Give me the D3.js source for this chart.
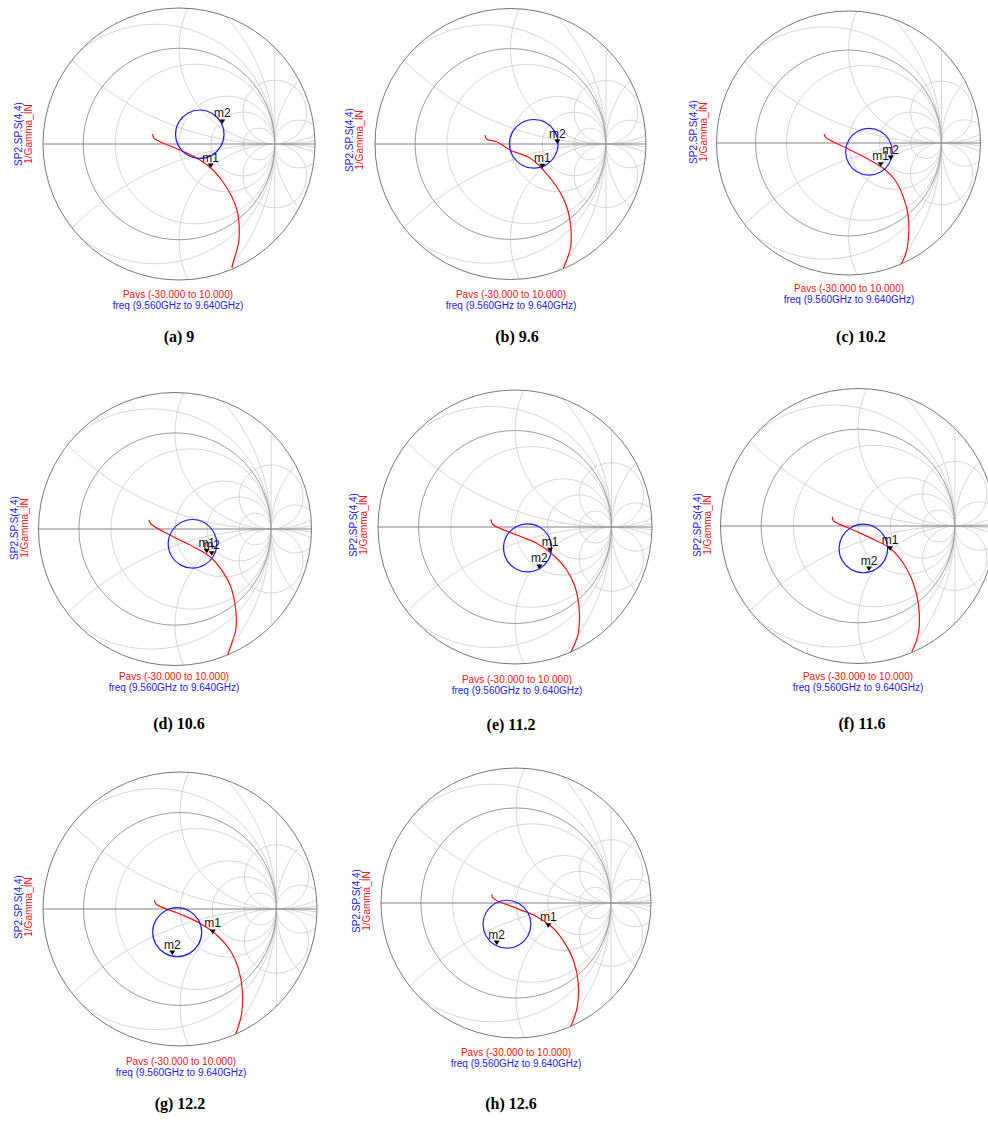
<!DOCTYPE html>
<html>
<head>
<meta charset="utf-8">
<script src="https://cdn.jsdelivr.net/npm/d3@7"></script>
<style>
  body { margin: 0; background: #fff; }
  svg { display: block; }
</style>
</head>
<body>
<svg id="chart" width="988" height="1123"></svg>
<script>
// ---- data: reflection coefficients [re, im] ----
// 1/Gamma_IN over Pavs (-30 .. 10)
const invGamma_a = [[-0.275,0.104],[-0.261,0.060],[-0.198,0.024],[0.010,-0.063],[0.219,-0.167],[0.355,-0.271],[0.459,-0.397],[0.553,-0.553],[0.605,-0.689],[0.626,-0.825],[0.626,-1.002],[0.605,-1.106],[0.564,-1.242],[0.553,-1.294]];
const invGamma_b = [[-0.267,0.094],[-0.249,0.049],[-0.145,0.024],[-0.005,-0.063],[0.204,-0.147],[0.344,-0.273],[0.484,-0.448],[0.589,-0.657],[0.631,-0.867],[0.631,-1.077],[0.589,-1.216],[0.553,-1.303]];
const invGamma_c = [[-0.263,0.097],[-0.245,0.061],[-0.019,-0.057],[0.196,-0.165],[0.374,-0.272],[0.500,-0.398],[0.589,-0.577],[0.643,-0.792],[0.643,-1.043],[0.618,-1.186],[0.561,-1.312]];
const invGamma_d = [[-0.271,0.094],[-0.250,0.052],[-0.018,-0.080],[0.190,-0.184],[0.364,-0.288],[0.486,-0.427],[0.580,-0.600],[0.632,-0.843],[0.632,-1.051],[0.590,-1.189],[0.548,-1.311]];
const invGamma_e = [[-0.249,0.080],[-0.235,0.031],[0.018,-0.083],[0.225,-0.169],[0.397,-0.290],[0.536,-0.446],[0.622,-0.619],[0.666,-0.860],[0.656,-1.102],[0.622,-1.205],[0.570,-1.316]];
const invGamma_f = [[-0.265,0.096],[-0.255,0.055],[-0.049,-0.041],[0.158,-0.137],[0.331,-0.230],[0.468,-0.385],[0.571,-0.592],[0.623,-0.799],[0.633,-1.040],[0.606,-1.178],[0.555,-1.299]];
const invGamma_g = [[-0.266,0.093],[-0.249,0.052],[0.000,-0.052],[0.207,-0.148],[0.380,-0.269],[0.518,-0.425],[0.604,-0.615],[0.646,-0.839],[0.639,-1.081],[0.604,-1.220],[0.570,-1.316]];
const invGamma_h = [[-0.256,0.091],[-0.239,0.049],[0.007,-0.056],[0.218,-0.144],[0.392,-0.266],[0.515,-0.424],[0.603,-0.599],[0.655,-0.844],[0.645,-1.090],[0.610,-1.212],[0.568,-1.318]];

// SP2.SP.S(4,4) over freq (9.56 .. 9.64 GHz), closed loop
const s44_a = [[0.470,0.102],[0.436,0.229],[0.344,0.321],[0.217,0.355],[0.091,0.321],[-0.002,0.229],[-0.036,0.102],[-0.002,-0.025],[0.091,-0.117],[0.217,-0.151],[0.344,-0.117],[0.436,-0.025]];
const s44_b = [[0.499,0.002],[0.465,0.130],[0.372,0.223],[0.244,0.257],[0.117,0.223],[0.023,0.130],[-0.011,0.002],[0.023,-0.126],[0.117,-0.219],[0.244,-0.253],[0.372,-0.219],[0.465,-0.126]];
const s44_c = [[0.471,-0.094],[0.437,0.032],[0.346,0.123],[0.220,0.157],[0.095,0.123],[0.003,0.032],[-0.031,-0.094],[0.003,-0.220],[0.095,-0.311],[0.220,-0.345],[0.346,-0.311],[0.437,-0.220]];
const s44_d = [[0.435,-0.154],[0.401,-0.028],[0.309,0.065],[0.182,0.099],[0.056,0.065],[-0.037,-0.028],[-0.071,-0.154],[-0.037,-0.281],[0.056,-0.373],[0.182,-0.407],[0.309,-0.373],[0.401,-0.281]];
const s44_e = [[0.379,-0.216],[0.346,-0.091],[0.255,0.000],[0.130,0.033],[0.006,0.000],[-0.086,-0.091],[-0.119,-0.216],[-0.086,-0.341],[0.006,-0.432],[0.130,-0.465],[0.255,-0.432],[0.346,-0.341]];
const s44_f = [[0.306,-0.232],[0.272,-0.107],[0.181,-0.015],[0.055,0.019],[-0.071,-0.015],[-0.162,-0.107],[-0.196,-0.232],[-0.162,-0.358],[-0.071,-0.449],[0.055,-0.483],[0.181,-0.449],[0.272,-0.358]];
const s44_g = [[0.225,-0.240],[0.191,-0.113],[0.098,-0.020],[-0.029,0.014],[-0.156,-0.020],[-0.249,-0.113],[-0.283,-0.240],[-0.249,-0.367],[-0.156,-0.460],[-0.029,-0.494],[0.098,-0.460],[0.191,-0.367]];
const s44_h = [[0.157,-0.223],[0.123,-0.097],[0.031,-0.005],[-0.095,0.029],[-0.221,-0.005],[-0.313,-0.097],[-0.347,-0.223],[-0.313,-0.349],[-0.221,-0.441],[-0.095,-0.475],[0.031,-0.441],[0.123,-0.349]];

// markers m1 (on 1/Gamma_IN) and m2 (on S(4,4))
const m1 = [[0.331,-0.251],[0.333,-0.255],[0.346,-0.255],[0.330,-0.253],[0.363,-0.262],[0.331,-0.255],[0.339,-0.259],[0.340,-0.260]];
const m2 = [[0.452,0.209],[0.491,0.000],[0.454,-0.183],[0.382,-0.278],[0.252,-0.435],[0.114,-0.465],[-0.080,-0.477],[-0.203,-0.442]];

const captions = ["(a) 9", "(b) 9.6", "(c) 10.2", "(d) 10.6", "(e) 11.2", "(f) 11.6", "(g) 12.2", "(h) 12.6"];

// Smith grid values
const rGrid = [0.2, 1, 2, 5];
const rNegGrid = [-0.2, -0.5, -2, -5];
const xGrid = [1 / 3, 1, 3];
const G = 1.42; // |gamma| at the outer ring

const red = "#ff1010", blue = "#2020ff";

const panels = [
  {red: invGamma_a, blue: s44_a, cx: 179,   cy: 144, R: 136,   lx: 22,  ly: 134, tx: 178, ty: 298,  capX: 179, capY: 342},
  {red: invGamma_b, blue: s44_b, cx: 510.5, cy: 144, R: 135.5, lx: 353, ly: 140, tx: 511, ty: 298,  capX: 517, capY: 342},
  {red: invGamma_c, blue: s44_c, cx: 848.5, cy: 143, R: 132,   lx: 697, ly: 132, tx: 849, ty: 292,  capX: 861, capY: 342},
  {red: invGamma_d, blue: s44_d, cx: 175,   cy: 529, R: 136.5, lx: 18,  ly: 528, tx: 174, ty: 680,  capX: 179, capY: 729},
  {red: invGamma_e, blue: s44_e, cx: 515,   cy: 527, R: 137,   lx: 357, ly: 525, tx: 517, ty: 683,  capX: 511, capY: 730},
  {red: invGamma_f, blue: s44_f, cx: 858,   cy: 526, R: 137.5, lx: 701, ly: 525, tx: 858, ty: 680,  capX: 862, capY: 729},
  {red: invGamma_g, blue: s44_g, cx: 180,   cy: 909, R: 137,   lx: 22,  ly: 907, tx: 181, ty: 1065, capX: 180, capY: 1109},
  {red: invGamma_h, blue: s44_h, cx: 516,   cy: 903, R: 135,   lx: 360, ly: 901, tx: 516, ty: 1056, capX: 511, capY: 1109}
];

const svg = d3.select("#chart");
svg.append("rect").attr("width", 988).attr("height", 1123).attr("fill", "#fff");
const defs = svg.append("defs");

panels.forEach((p, i) => {
  const sx = d3.scaleLinear().domain([-G, G]).range([p.cx - p.R, p.cx + p.R]);
  const sy = d3.scaleLinear().domain([-G, G]).range([p.cy + p.R, p.cy - p.R]);
  const k = sx(1) - sx(0);

  defs.append("clipPath").attr("id", "clip" + i)
    .append("circle").attr("cx", p.cx).attr("cy", p.cy).attr("r", p.R);

  const g = svg.append("g");
  const grid = g.append("g").attr("clip-path", `url(#clip${i})`).attr("fill", "none");

  const circ = (re, im, rad, color, w) => grid.append("circle")
    .attr("cx", sx(re)).attr("cy", sy(im)).attr("r", rad * k)
    .attr("stroke", color).attr("stroke-width", w);

  // resistance circles (positive and negative)
  rGrid.concat(rNegGrid).forEach(r => circ(r / (1 + r), 0, 1 / Math.abs(1 + r), "#d0d0d0", 0.9));
  // r = -1 is a straight line
  grid.append("line")
    .attr("x1", sx(1)).attr("x2", sx(1)).attr("y1", sy(G)).attr("y2", sy(-G))
    .attr("stroke", "#d0d0d0").attr("stroke-width", 0.9);
  // reactance circles
  xGrid.forEach(x => {
    circ(1, 1 / x, 1 / x, "#d0d0d0", 0.9);
    circ(1, -1 / x, 1 / x, "#d0d0d0", 0.9);
  });
  // unit circle
  circ(0, 0, 1, "#9a9a9a", 1);
  // real axis
  grid.append("line")
    .attr("x1", sx(-G)).attr("x2", sx(G)).attr("y1", sy(0)).attr("y2", sy(0))
    .attr("stroke", "#808080").attr("stroke-width", 1);
  // outer ring
  g.append("circle").attr("cx", p.cx).attr("cy", p.cy).attr("r", p.R)
    .attr("fill", "none").attr("stroke", "#777").attr("stroke-width", 1);

  const traces = g.append("g").attr("clip-path", `url(#clip${i})`).attr("fill", "none");
  traces.append("path")
    .attr("d", d3.line().x(d => sx(d[0])).y(d => sy(d[1])).curve(d3.curveCatmullRom)(p.red))
    .attr("stroke", red).attr("stroke-width", 1.2);
  traces.append("path")
    .attr("d", d3.line().x(d => sx(d[0])).y(d => sy(d[1])).curve(d3.curveCatmullRomClosed)(p.blue))
    .attr("stroke", blue).attr("stroke-width", 1.2);

  // markers
  [["m1", m1[i]], ["m2", m2[i]]].forEach(([name, pt]) => {
    const x = sx(pt[0]), y = sy(pt[1]);
    g.append("path")
      .attr("d", `M${x - 3},${y - 4.5}L${x + 3},${y - 4.5}L${x},${y}Z`)
      .attr("fill", "#000");
    g.append("text").attr("x", x).attr("y", y - 6.5)
      .attr("text-anchor", "middle")
      .attr("font-family", "Liberation Sans, Arial, sans-serif")
      .attr("font-size", 12).attr("fill", "#111")
      .text(name);
  });

  // vertical trace labels
  const lab = g.append("g").attr("font-family", "Liberation Sans, Arial, sans-serif")
    .attr("font-size", 10).attr("text-anchor", "middle");
  lab.append("text").attr("transform", `translate(${p.lx},${p.ly}) rotate(-90)`)
    .attr("fill", blue).text("SP2.SP.S(4,4)");
  lab.append("text").attr("transform", `translate(${p.lx + 10},${p.ly}) rotate(-90)`)
    .attr("fill", red).text("1/Gamma_IN");

  // sweep ranges
  lab.append("text").attr("x", p.tx).attr("y", p.ty).attr("fill", red)
    .text("Pavs (-30.000 to 10.000)");
  lab.append("text").attr("x", p.tx).attr("y", p.ty + 11).attr("fill", blue)
    .text("freq (9.560GHz to 9.640GHz)");

  // caption
  g.append("text").attr("x", p.capX).attr("y", p.capY)
    .attr("text-anchor", "middle")
    .attr("font-family", "Liberation Serif, Times New Roman, serif")
    .attr("font-weight", "bold").attr("font-size", 16).attr("fill", "#000")
    .text(captions[i]);
});
</script>
</body>
</html>
